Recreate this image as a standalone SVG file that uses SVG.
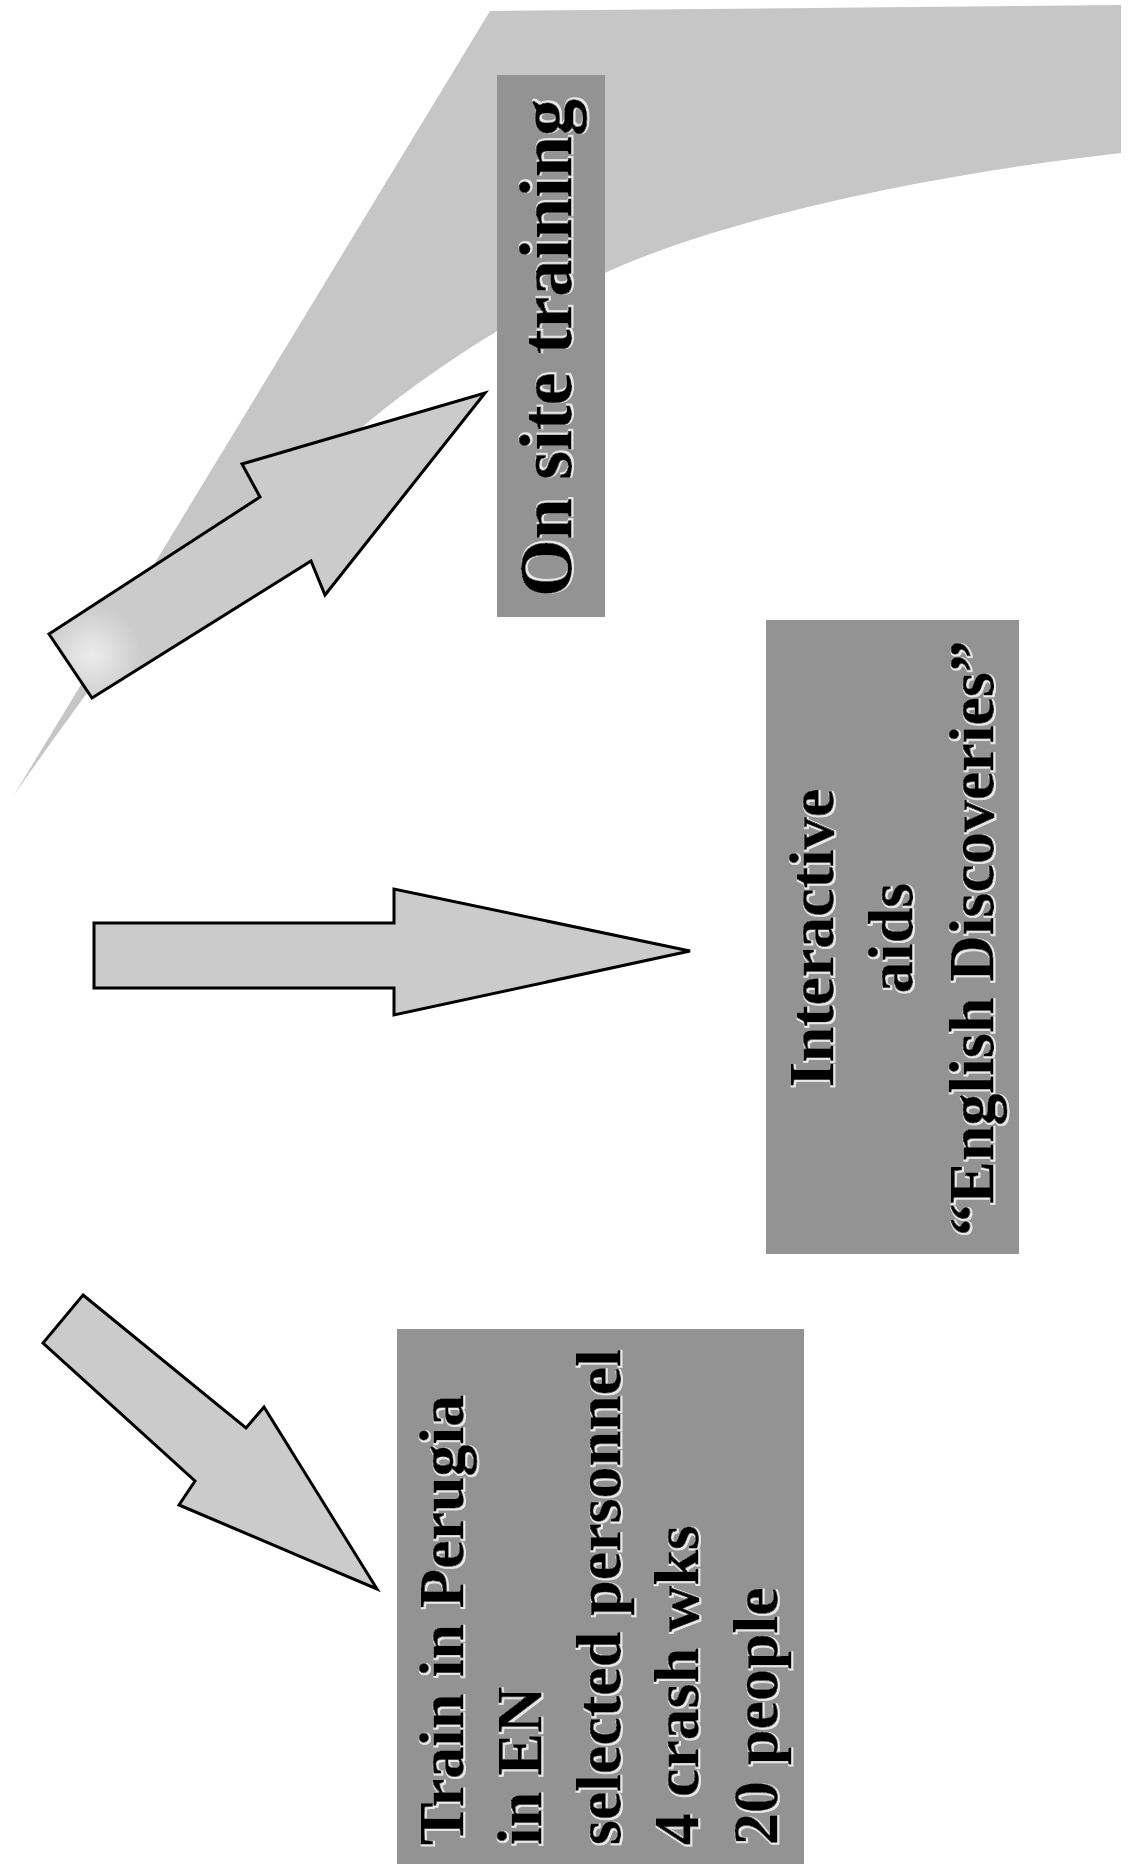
<svg xmlns="http://www.w3.org/2000/svg" width="1128" height="1867" viewBox="0 0 1128 1867">
  <defs>
    <style>
      .box { fill: #939393; }
      .lbl { font-family: "Liberation Serif", "Times New Roman", serif; font-weight: bold; fill: #000; stroke: #000; stroke-width: 0.8; filter: url(#emboss); }
      .arrow { fill: #cbcbcb; stroke: #000; stroke-width: 3; stroke-linejoin: miter; }
      .sweep { fill: #c6c6c6; }
    </style>
    <filter id="emboss" x="-5%" y="-20%" width="110%" height="140%">
      <feMorphology in="SourceAlpha" operator="dilate" radius="1.2" result="d"/>
      <feOffset in="d" dx="1" dy="1" result="o"/>
      <feFlood flood-color="#ffffff" flood-opacity="0.8"/>
      <feComposite in2="o" operator="in" result="w"/>
      <feMerge>
        <feMergeNode in="w"/>
        <feMergeNode in="SourceGraphic"/>
      </feMerge>
    </filter>
    <radialGradient id="glow" cx="92" cy="655" r="50" gradientUnits="userSpaceOnUse">
      <stop offset="0" stop-color="#ececec"/>
      <stop offset="1" stop-color="#cbcbcb"/>
    </radialGradient>
  </defs>

  <rect width="1128" height="1867" fill="#ffffff"/>

  <g id="sweep">
    <path class="sweep" d="M490,11 L1121,5 L1121,153 C900,178 710,225 607,272 C540,302 440,362 367,423 C250,520 140,620 87,693 C60,730 35,765 14,795 Z"/>
  </g>

  <g id="node-onsite">
    <rect class="box" x="497" y="75" width="108" height="542"/>
    <text class="lbl" font-size="74" transform="translate(571,597) rotate(-90)" textLength="498" lengthAdjust="spacingAndGlyphs">On site training</text>
  </g>

  <g id="node-interactive">
    <rect class="box" x="766" y="620" width="253" height="634"/>
    <g class="lbl" font-size="64" text-anchor="middle">
      <text transform="translate(833,938) rotate(-90)">Interactive</text>
      <text transform="translate(912,938) rotate(-90)">aids</text>
      <text transform="translate(993,938) rotate(-90)">“English Discoveries”</text>
    </g>
  </g>

  <g id="node-perugia">
    <rect class="box" x="397" y="1329" width="407" height="535"/>
    <g class="lbl" font-size="64">
      <text transform="translate(463,1845) rotate(-90)">Train in Perugia</text>
      <text transform="translate(541,1845) rotate(-90)">in EN</text>
      <text transform="translate(620,1845) rotate(-90)">selected personnel</text>
      <text transform="translate(698,1845) rotate(-90)">4 crash wks</text>
      <text transform="translate(777,1845) rotate(-90)">20 people</text>
    </g>
  </g>

  <g id="connectors">
    <path id="arrow-onsite" class="arrow" style="fill:url(#glow)" d="M49,634 L260,497 L242,464 L485,393 L325,595 L311,561 L92,698 Z"/>
    <path id="arrow-interactive" class="arrow" d="M94,923 L394,923 L394,889 L690,951 L394,1015 L394,988 L94,988 Z"/>
    <path id="arrow-perugia" class="arrow" d="M83,1295 L246,1428 L264,1407 L377,1589 L179,1505 L195,1481 L43,1343 Z"/>
  </g>
</svg>
